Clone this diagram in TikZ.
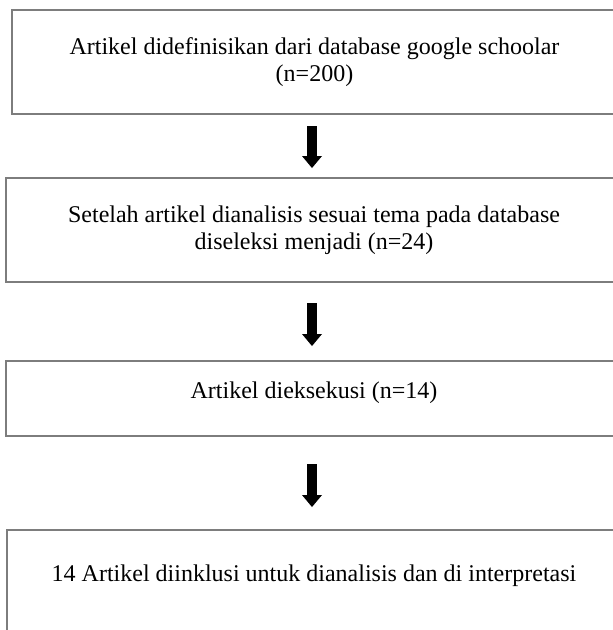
\documentclass[tikz,border=0pt]{standalone}
\usepackage{fontspec}
\setmainfont{Liberation Serif}
\usetikzlibrary{arrows.meta}
\definecolor{boxline}{RGB}{125,125,125}
\tikzset{
  stagebox/.style={draw=boxline, line width=2pt, inner sep=0pt, align=center,
    font=\fontsize{24}{27}\selectfont, text=black},
  flowarrow/.style={draw=black, line width=10pt,
    -{Triangle[width=20pt,length=12pt,line width=0pt]}}
}
\begin{document}
\begin{tikzpicture}[x=1pt,y=-1pt]
\useasboundingbox (0,0) rectangle (613,630);
\clip (0,0) rectangle (613,630);
\fill[white] (0,0) rectangle (613,630);
\node[stagebox, minimum width=605pt, minimum height=104pt] (b1) at (314.5,62)
  {Artikel didefinisikan dari database google schoolar\\(n=200)};
\node[stagebox, minimum width=616pt, minimum height=104pt] (b2) at (314,230)
  {Setelah artikel dianalisis sesuai tema pada database\\diseleksi menjadi (n=24)};
\node[stagebox, minimum width=616pt, minimum height=75pt, text height=17pt, text depth=18pt] (b3) at (314,398.5)
  {Artikel dieksekusi (n=14)};
\node[stagebox, minimum width=614pt, minimum height=150pt, text height=17pt, text depth=65pt] (b4) at (314,605)
  {14 Artikel diinklusi untuk dianalisis dan di interpretasi};
\coordinate (ax) at (312,0);
\draw[flowarrow, shorten <=11pt, shorten >=9pt] (b1.south -| ax) -- (b2.north -| ax);
\draw[flowarrow, shorten <=20pt, shorten >=14pt] (b2.south -| ax) -- (b3.north -| ax);
\draw[flowarrow, shorten <=27pt, shorten >=22pt] (b3.south -| ax) -- (b4.north -| ax);
\end{tikzpicture}
\end{document}
